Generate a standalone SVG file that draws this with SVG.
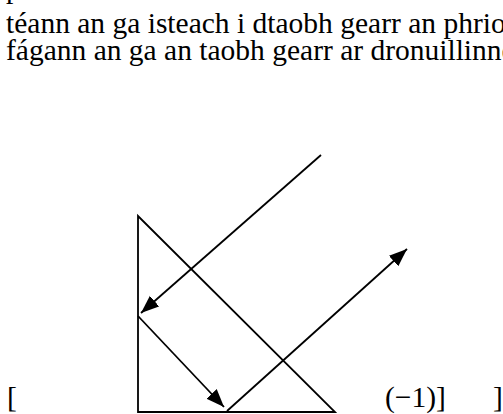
<svg xmlns="http://www.w3.org/2000/svg" width="503" height="414" viewBox="0 0 503 414">
<style>
.t{font-family:"Liberation Serif","DejaVu Serif",serif;font-size:29.5px;fill:#000}
.ln{stroke:#000;stroke-width:1.8;fill:none}
</style>
<defs>
<marker id="ah" markerUnits="userSpaceOnUse" markerWidth="20" markerHeight="16" refX="18" refY="7" orient="auto" viewBox="0 0 20 14">
<path d="M0,0 L18,7 L0,14 Z" fill="#000"/>
</marker>
</defs>
<rect width="503" height="414" fill="#fff"/>
<g id="text" font-family="Liberation Serif, DejaVu Serif, serif">
<text class="t" x="6" y="-2">p</text>
<text class="t" x="6" y="33">téann an ga isteach i dtaobh gearr an phrio</text>
<text class="t" x="6" y="60">fágann an ga an taobh gearr ar dronuillinne</text>
<text class="t" x="7" y="407">[</text>
<text class="t" x="385" y="407">(−1)]</text>
<text class="t" x="493" y="407">]</text>
</g>
<g id="prism">
<path class="ln" d="M138,216 L138,412 L335,412 Z" stroke-width="2"/>
</g>
<g id="connectors">
<line class="ln" x1="321" y1="155" x2="141" y2="313" marker-end="url(#ah)"/>
<line class="ln" x1="138" y1="316" x2="224" y2="407" marker-end="url(#ah)"/>
<line class="ln" x1="227" y1="411" x2="407" y2="249" marker-end="url(#ah)"/>
</g>
</svg>
